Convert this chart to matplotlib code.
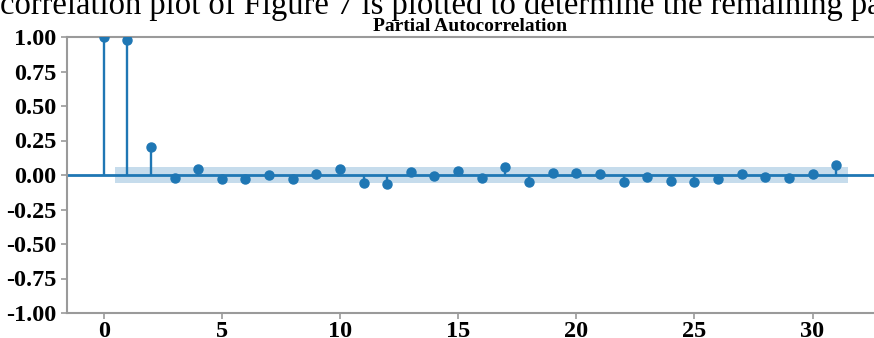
import numpy as np
import matplotlib.pyplot as plt

lags = list(range(32))
pacf_vals = [1.00, 0.98, 0.20, -0.02, 0.04, -0.03, -0.03, 0.00, -0.03, 0.005,
             0.045, -0.055, -0.065, 0.02, -0.01, 0.03, -0.02, 0.055, -0.05, 0.015,
             0.015, 0.01, -0.05, -0.015, -0.045, -0.05, -0.03, 0.01, -0.015, -0.02,
             0.01, 0.075]
conf = 0.06
yticks = [-1.00, -0.75, -0.50, -0.25, 0.00, 0.25, 0.50, 0.75, 1.00]
xticks = [0, 5, 10, 15, 20, 25, 30]

plt.rcParams['font.family'] = ['Liberation Serif', 'DejaVu Serif']

fig = plt.figure(figsize=(8.74, 3.38), dpi=100)
ax = fig.add_axes([67 / 874, 25 / 338, 807 / 874, 276 / 338])

blue = '#1f77b4'
gray = '#9a9a9a'

ax.axhline(0, color=blue, lw=2, zorder=1)
ax.vlines(lags, 0, pacf_vals, color=blue, lw=1.7, zorder=2)
ax.plot(lags, pacf_vals, 'o', color=blue, ms=6.5, zorder=3)
band_x = np.array(lags[1:], dtype=float)
ax.fill_between(np.r_[band_x[0] - 0.5, band_x + 0.5], -conf, conf,
                step='pre', color=blue, alpha=0.25, lw=0, zorder=0)

ax.set_xlim(-1.55, 32.6)
ax.set_ylim(-1.0, 1.0)
ax.set_yticks(yticks)
ax.set_yticklabels([f'{v:.2f}' for v in yticks])
ax.set_xticks(xticks)
ax.set_title('Partial Autocorrelation', fontsize=14, fontweight='bold', pad=4)

for s in ['left', 'bottom', 'top']:
    ax.spines[s].set_color(gray)
    ax.spines[s].set_linewidth(1.5)
ax.spines['right'].set_visible(False)
ax.tick_params(colors=gray, length=4, width=1.2, labelcolor='black',
               labelsize=17.5)
ax.tick_params(axis='x', pad=2)
for lbl in ax.get_xticklabels() + ax.get_yticklabels():
    lbl.set_fontweight('bold')

fig.text(0.0, 1 - 14 / 338, 'correlation plot of Figure 7 is plotted to determine the remaining parameter',
         fontsize=23.5, va='baseline', ha='left')

fig.savefig('out.png', dpi=100)
